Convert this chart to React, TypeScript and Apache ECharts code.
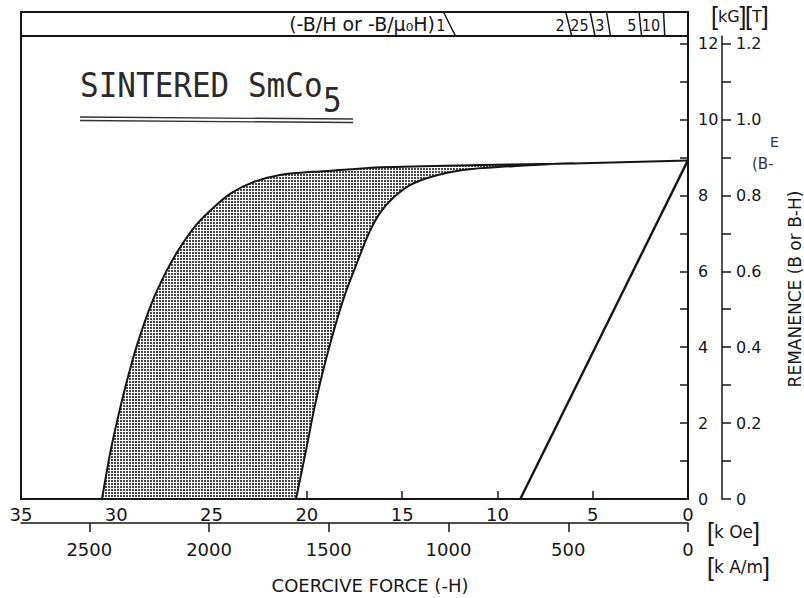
import { useEffect, useRef } from 'react';
import * as echarts from 'echarts';

// ---------- axis ranges / ticks ----------
const H_MAX = 35; // kOe
const B_MAX = 12.2; // kG
const KAM_PER_KOE = 79.577;

const kOeInterval = 5;
const kAmTicks = [0, 500, 1000, 1500, 2000, 2500];
const kGTicks = [0, 1, 2, 3, 4, 5, 6, 7, 8, 9, 10, 11, 12];
const kGLabels = [0, 2, 4, 6, 8, 10, 12];
const teslaTicks = [0, 0.1, 0.2, 0.3, 0.4, 0.5, 0.6, 0.7, 0.8, 0.9, 1.0, 1.1, 1.2];
const teslaLabels = [0, 0.2, 0.4, 0.6, 0.8, 1.0, 1.2];

// ---------- curves (H in kOe, B in kG) ----------
// outer (high coercivity) intrinsic curve
const outerH = [30.75, 30.33, 29.99, 29.54, 28.91, 28.12, 27.34, 26.6, 25.76, 24.92, 23.97, 22.82, 21.41, 19.68, 17.89, 16.16, 10.91, 6.0];
const outerB = [0, 1.19, 1.98, 2.92, 4.06, 5.19, 6.03, 6.67, 7.25, 7.67, 8.06, 8.35, 8.54, 8.62, 8.68, 8.74, 8.8, 8.84];
// inner (low coercivity) intrinsic curve
const innerH = [20.57, 20.04, 19.57, 18.94, 18.1, 17.37, 16.74, 16.16, 15.48, 14.59, 13.54, 11.81, 9.18, 7.08, 6.0];
const innerB = [0, 1.29, 2.48, 3.79, 5.24, 6.22, 7.01, 7.54, 7.93, 8.27, 8.48, 8.67, 8.77, 8.83, 8.84];
// common top (both curves merge)
const topH = [6.0, 0];
const topB = [8.84, 8.92];
// normal (B) line
const normalH = [8.8, 0];
const normalB = [0, 8.93];

// permeance coefficient scale in header
const permeance = [1, 2, 2.5, 3, 5, 10];
const permeanceLabels = ['1', '2', '25', '3', '5', '10'];

// ---------- layout ----------
const GRID_LEFT = 21;
const GRID_RIGHT_PX = 688;
const GRID_TOP = 36;
const GRID_BOTTOM_PX = 499;
const HEADER_TOP = 12;
const INK = '#161616';
const SANS = "'DejaVu Sans', sans-serif";
const SMOOTH = 0.35;

function pairs(h: number[], b: number[]) {
  return h.map((v, i) => [v, b[i]]);
}

function makePattern() {
  const c = document.createElement('canvas');
  c.width = 3;
  c.height = 3;
  const ctx = c.getContext('2d')!;
  ctx.fillStyle = '#ffffff';
  ctx.fillRect(0, 0, 3, 3);
  ctx.fillStyle = '#474747';
  ctx.fillRect(0, 0, 2, 2);
  return { image: c, repeat: 'repeat', imageWidth: 3, imageHeight: 3 };
}

export default function App() {
  const ref = useRef<HTMLDivElement>(null);

  useEffect(() => {
    const chart = echarts.init(ref.current!, null, { renderer: 'svg' });
    const pattern = makePattern();

    const outerPts = pairs(outerH, outerB);
    const innerPts = pairs(innerH, innerB);
    const innerRev = innerPts.slice().reverse();
    // duplicated end points keep the corners on the axis sharp when smoothing
    const bandPts = [outerPts[0]].concat(outerPts, innerRev, [innerRev[innerRev.length - 1]]);

    const option: any = {
      animation: false,
      backgroundColor: '#ffffff',
      grid: {
        left: GRID_LEFT,
        right: 804 - GRID_RIGHT_PX,
        top: GRID_TOP,
        bottom: 598 - GRID_BOTTOM_PX,
        show: true,
        borderColor: INK,
        borderWidth: 2,
        containLabel: false,
        outerBoundsMode: 'none',
      },
      xAxis: [
        {
          type: 'value',
          position: 'bottom',
          inverse: true,
          min: 0,
          max: H_MAX,
          interval: kOeInterval,
          axisLine: { show: true, onZero: false, lineStyle: { color: INK, width: 2 } },
          axisTick: { show: true, inside: true, length: 8, lineStyle: { color: INK, width: 1.5 } },
          axisLabel: { color: INK, fontSize: 18, fontFamily: SANS, margin: 6 },
          splitLine: { show: false },
        },
        {
          type: 'value',
          position: 'bottom',
          offset: 24,
          inverse: true,
          min: 0,
          max: H_MAX * KAM_PER_KOE,
          interval: 500,
          axisLine: { show: true, onZero: false, lineStyle: { color: INK, width: 1.5 } },
          axisTick: { show: true, inside: false, length: 9, customValues: kAmTicks, lineStyle: { color: INK, width: 1.5 } },
          axisLabel: {
            color: INK,
            fontSize: 18,
            fontFamily: SANS,
            margin: 17,
            customValues: kAmTicks,
            formatter: (v: number) => (v % 500 === 0 ? String(v) : ''),
          },
          splitLine: { show: false },
        },
      ],
      yAxis: [
        {
          type: 'value',
          position: 'right',
          min: 0,
          max: B_MAX,
          interval: 1,
          axisLine: { show: true, onZero: false, lineStyle: { color: INK, width: 2 } },
          axisTick: { show: true, inside: true, length: 8, customValues: kGTicks, lineStyle: { color: INK, width: 1.5 } },
          axisLabel: {
            color: INK,
            fontSize: 16,
            fontFamily: SANS,
            margin: 10,
            customValues: kGLabels,
            formatter: (v: number) => (Math.abs(v % 2) < 1e-6 && v <= 12 ? String(v) : ''),
          },
          splitLine: { show: false },
        },
        {
          type: 'value',
          position: 'right',
          offset: 34,
          min: 0,
          max: B_MAX / 10,
          interval: 0.1,
          axisLine: { show: true, onZero: false, lineStyle: { color: INK, width: 1.5 } },
          axisTick: { show: true, inside: false, length: 9, customValues: teslaTicks, lineStyle: { color: INK, width: 1.5 } },
          axisLabel: {
            color: INK,
            fontSize: 16,
            fontFamily: SANS,
            margin: 14,
            customValues: teslaLabels,
            formatter: (v: number) => {
              const r = Math.round(v * 10);
              if (Math.abs(v * 10 - r) > 1e-6 || r % 2 !== 0 || r > 12) return '';
              return r === 0 ? '0' : (r / 10).toFixed(1);
            },
          },
          splitLine: { show: false },
        },
      ],
      series: [
        {
          // shaded band between the two intrinsic curves, outlined by the curves themselves
          type: 'custom',
          coordinateSystem: 'cartesian2d',
          xAxisIndex: 0,
          yAxisIndex: 0,
          silent: true,
          clip: true,
          z: 2,
          data: [[0, 0]],
          renderItem: (_params: any, api: any) => ({
            type: 'polygon',
            shape: { points: bandPts.map((p) => api.coord(p)), smooth: SMOOTH },
            style: { fill: pattern, stroke: INK, lineWidth: 2, lineJoin: 'round' },
          }),
        },
        {
          type: 'line',
          xAxisIndex: 0,
          yAxisIndex: 0,
          data: pairs(topH, topB),
          symbol: 'none',
          silent: true,
          z: 3,
          lineStyle: { color: INK, width: 2 },
        },
        {
          type: 'line',
          xAxisIndex: 0,
          yAxisIndex: 0,
          data: pairs(normalH, normalB),
          symbol: 'none',
          silent: true,
          z: 3,
          lineStyle: { color: INK, width: 2.4 },
        },
      ],
    };

    chart.setOption(option);

    const toPx = (h: number, b: number) =>
      chart.convertToPixel({ xAxisIndex: 0, yAxisIndex: 0 }, [h, b]) as number[];
    const pxPerKG = toPx(0, 0)[1] - toPx(0, 1)[1];
    const gridTopPx = toPx(0, B_MAX)[1];
    const leftPx = toPx(H_MAX, 0)[0];
    const rightPx = toPx(0, 0)[0];
    const bTop = B_MAX + (gridTopPx - HEADER_TOP) / pxPerKG;

    const graphics: any[] = [];
    // header band
    graphics.push({
      type: 'rect',
      shape: { x: leftPx, y: HEADER_TOP, width: rightPx - leftPx, height: gridTopPx - HEADER_TOP },
      style: { fill: 'none', stroke: INK, lineWidth: 2 },
    });
    permeance.forEach((p, i) => {
      const xb = toPx(B_MAX / p, B_MAX)[0];
      const xt = toPx(bTop / p, bTop)[0];
      graphics.push({
        type: 'line',
        shape: { x1: xt, y1: HEADER_TOP, x2: xb, y2: gridTopPx },
        style: { stroke: INK, lineWidth: 1.5 },
      });
      graphics.push({
        type: 'text',
        x: (xt + xb) / 2 - 4,
        y: (HEADER_TOP + gridTopPx) / 2 + 1,
        style: {
          text: permeanceLabels[i],
          fontSize: 16,
          fontFamily: "'DejaVu Sans Condensed', 'DejaVu Sans', sans-serif",
          fill: INK,
          align: 'right',
          verticalAlign: 'middle',
        },
      });
    });
    graphics.push({
      type: 'text',
      x: 435,
      y: (HEADER_TOP + gridTopPx) / 2,
      style: {
        text: '(-B/H or -B/μ₀H)',
        fontSize: 19,
        fontFamily: SANS,
        fill: INK,
        align: 'right',
        verticalAlign: 'middle',
      },
    });

    // title
    graphics.push({
      type: 'text',
      x: 80,
      y: 85.5,
      scaleY: 1.1,
      style: { text: 'SINTERED SmCo', fontSize: 31, fontFamily: "'DejaVu Sans Mono', monospace", fill: '#2a2a2a', align: 'left', verticalAlign: 'middle' },
    });
    graphics.push({
      type: 'text',
      x: 323,
      y: 100,
      scaleY: 1.1,
      style: { text: '5', fontSize: 31, fontFamily: "'DejaVu Sans Mono', monospace", fill: '#2a2a2a', align: 'left', verticalAlign: 'middle' },
    });
    graphics.push({ type: 'line', shape: { x1: 80, y1: 117, x2: 353, y2: 119 }, style: { stroke: '#333', lineWidth: 1.3 } });
    graphics.push({ type: 'line', shape: { x1: 80, y1: 120.5, x2: 353, y2: 122.5 }, style: { stroke: '#333', lineWidth: 1.3 } });

    // unit labels
    const bracketRich = {
      b: { fontSize: 25, lineHeight: 28, fontFamily: "'Liberation Sans', sans-serif", fill: INK, verticalAlign: 'middle' },
      t: { fontSize: 17, lineHeight: 28, fontFamily: SANS, fill: INK, verticalAlign: 'middle' },
      s: { fontSize: 16, lineHeight: 28, fontFamily: SANS, fill: INK, verticalAlign: 'middle' },
    };
    graphics.push({ type: 'text', x: 711, y: 16, style: { text: '{b|[}{s|kG}{b|]}', rich: bracketRich, align: 'left', verticalAlign: 'middle' } });
    graphics.push({ type: 'text', x: 745, y: 16, style: { text: '{b|[}{s|T}{b|]}', rich: bracketRich, align: 'left', verticalAlign: 'middle' } });
    graphics.push({ type: 'text', x: 707, y: 532, style: { text: '{b|[}{t|k Oe}{b|]}', rich: bracketRich, align: 'left', verticalAlign: 'middle' } });
    graphics.push({ type: 'text', x: 707, y: 567, style: { text: '{b|[}{t|k A/m}{b|]}', rich: bracketRich, align: 'left', verticalAlign: 'middle' } });

    // axis titles
    graphics.push({
      type: 'text',
      x: 370,
      y: 585,
      style: { text: 'COERCIVE FORCE (-H)', fontSize: 18, fontFamily: SANS, fill: INK, align: 'center', verticalAlign: 'middle' },
    });
    graphics.push({
      type: 'text',
      x: 795,
      y: 289,
      rotation: Math.PI / 2,
      style: { text: 'REMANENCE (B or B-H)', fontSize: 17, fontFamily: SANS, fill: INK, align: 'center', verticalAlign: 'middle' },
    });
    graphics.push({ type: 'text', x: 770, y: 142, style: { text: 'E', fontSize: 14, fontFamily: SANS, fill: '#333', align: 'left', verticalAlign: 'middle' } });
    graphics.push({ type: 'text', x: 752, y: 164, style: { text: '(B-', fontSize: 15, fontFamily: SANS, fill: '#333', align: 'left', verticalAlign: 'middle' } });

    chart.setOption({ graphic: graphics });

    return () => chart.dispose();
  }, []);

  return <div ref={ref} style={{ position: 'fixed', left: 0, top: 0, width: 804, height: 598 }} />;
}
